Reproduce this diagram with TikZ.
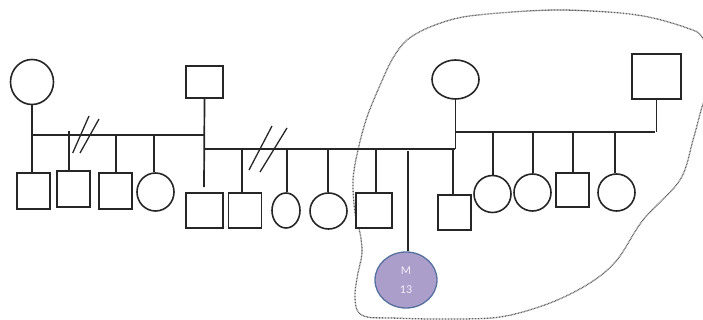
\documentclass[tikz,border=0pt]{standalone}
\usepackage{fontspec}
\newfontfamily\labelfont{Carlito}
\usetikzlibrary{shapes.geometric}
\definecolor{kinline}{HTML}{262626}
\definecolor{probandfill}{HTML}{AC9ECA}
\definecolor{probandedge}{HTML}{5670A0}
\definecolor{circlegray}{HTML}{5A5A5A}
\definecolor{labelwhite}{HTML}{F2EEF8}
\begin{document}
\begin{tikzpicture}[x=1pt,y=-1pt,
  kin/.style={draw=kinline, line width=1.7pt},
  male/.style={rectangle, draw=kinline, line width=1.6pt, fill=white, inner sep=0pt},
  female/.style={ellipse, draw=kinline, line width=1.6pt, fill=white, inner sep=0pt},
  proband/.style={ellipse, draw=probandedge, line width=1.3pt, fill=probandfill,
    inner sep=0pt, font=\labelfont\fontsize{12}{19}\selectfont, text=labelwhite, align=center},
  breakmark/.style={draw=kinline, line width=1.3pt},
  family/.style={draw=circlegray, line width=1.3pt, dash pattern=on 0.8pt off 0.7pt}
]
\useasboundingbox (0,0) rectangle (703,320);

% enclosing outline of the maternal branch
\draw[family] plot[smooth cycle, tension=0.55] coordinates {
  (381,83) (393,58) (407,40) (430,27) (463,17) (513,12) (563,10) (620,13)
  (653,18) (687,28) (702,37) (714,70) (702,107) (693,140) (680,180)
  (643,220) (617,260) (590,283) (550,303) (500,317) (440,319) (390,318)
  (367,317) (357,310) (355,293) (358,273) (362,253) (360,233) (355,213)
  (353,180) (358,150) (367,117)};

% first generation
\node[female, minimum width=43pt, minimum height=45pt] (gm1) at (32,82) {};
\node[male, minimum width=37pt, minimum height=32pt] (gf1) at (204.5,82) {};
\node[female, minimum width=47pt, minimum height=39pt] (gm2) at (455.5,79.5) {};
\node[male, minimum width=49pt, minimum height=45pt] (gf2) at (656.5,76.5) {};

% sibship lines
\coordinate (s1l) at (31,135);
\coordinate (s1r) at (204,135);
\coordinate (s2l) at (204,149);
\coordinate (s2r) at (455,149);
\coordinate (s3l) at (455,132);
\coordinate (s3r) at (655,132);
\draw[kin] (s1l) -- (s1r);
\draw[kin] (s2l) -- (s2r);
\draw[kin] (s3l) -- (s3r);

% second generation, first sibship
\node[male, minimum width=33pt, minimum height=36pt] (c11) at (33.5,191) {};
\node[male, minimum width=33pt, minimum height=36pt] (c12) at (73.5,189) {};
\node[male, minimum width=33pt, minimum height=36pt] (c13) at (115.5,191) {};
\node[female, minimum width=37pt, minimum height=38pt] (c14) at (155.5,192) {};

% second generation, second sibship
\node[male, minimum width=37pt, minimum height=35pt] (c21) at (204.5,210.5) {};
\node[male, minimum width=33pt, minimum height=35pt] (c22) at (245,210.5) {};
\node[female, minimum width=28pt, minimum height=35pt] (c23) at (286,210.5) {};
\node[female, minimum width=37pt, minimum height=36pt] (c24) at (328.5,211) {};
\node[male, minimum width=36pt, minimum height=35pt] (c25) at (374,210.5) {};
\node[proband, minimum width=62pt, minimum height=56pt] (pb) at (406,280) {M\\13};
\node[male, minimum width=33pt, minimum height=35pt] (c27) at (454.5,212.5) {};

% second generation, third sibship
\node[female, minimum width=37pt, minimum height=37pt] (c31) at (492.5,194) {};
\node[female, minimum width=37pt, minimum height=37pt] (c32) at (532.5,192.5) {};
\node[male, minimum width=33pt, minimum height=34pt] (c33) at (572.5,190) {};
\node[female, minimum width=37pt, minimum height=37pt] (c34) at (616.5,192.5) {};

% parents to sibships
\draw[kin] (gm1.south) -- (gm1.south |- s1l);
\coordinate (gf1end) at (204,187);
\draw[kin] (gf1.south) -- (gf1end);
\draw[kin] (gm2.south) -- (gm2.south |- s2r);
\draw[kin] (gf2.south) -- (gf2.south |- s3r);

% drop lines, first sibship
\draw[kin] ([xshift=-1.5pt]c11.north) -- ([xshift=-1.5pt]c11.north |- s1l);
\draw[kin] ([xshift=-4.5pt]c12.north) -- ([xshift=-4.5pt,yshift=4pt]c12.north |- s1l);
\draw[kin] ([xshift=0.5pt]c13.north) -- ([xshift=0.5pt]c13.north |- s1l);
\draw[kin] ([xshift=-1.5pt]c14.north) -- ([xshift=-1.5pt]c14.north |- s1l);

% drop lines, second sibship
\draw[kin] ([xshift=-3pt]c22.north) -- ([xshift=-3pt]c22.north |- s2l);
\draw[kin] ([xshift=1pt]c23.north) -- ([xshift=1pt]c23.north |- s2l);
\draw[kin] ([xshift=-0.5pt]c24.north) -- ([xshift=-0.5pt]c24.north |- s2l);
\draw[kin] ([xshift=2pt]c25.north) -- ([xshift=2pt]c25.north |- s2l);
\draw[kin] ([xshift=2pt]pb.north) -- ([xshift=2pt,yshift=-2pt]pb.north |- s2l);
\draw[kin] ([xshift=-1.5pt]c27.north) -- ([xshift=-1.5pt]c27.north |- s2l);

% drop lines, third sibship
\draw[kin] ([xshift=0.5pt]c31.north) -- ([xshift=0.5pt]c31.north |- s3l);
\draw[kin] ([xshift=0.5pt]c32.north) -- ([xshift=0.5pt]c32.north |- s3l);
\draw[kin] ([xshift=0.5pt]c33.north) -- ([xshift=0.5pt]c33.north |- s3l);
\draw[kin] ([xshift=-1.5pt]c34.north) -- ([xshift=-1.5pt]c34.north |- s3l);

% separation marks
\coordinate (b1a) at (72.7,153); \coordinate (b1b) at (89,116);
\coordinate (b1c) at (80,153);   \coordinate (b1d) at (99,119);
\draw[breakmark] (b1a) -- (b1b);
\draw[breakmark] (b1c) -- (b1d);
\coordinate (b2a) at (249,170); \coordinate (b2b) at (272,126);
\coordinate (b2c) at (260,172); \coordinate (b2d) at (287,128);
\draw[breakmark] (b2a) -- (b2b);
\draw[breakmark] (b2c) -- (b2d);
\end{tikzpicture}
\end{document}
